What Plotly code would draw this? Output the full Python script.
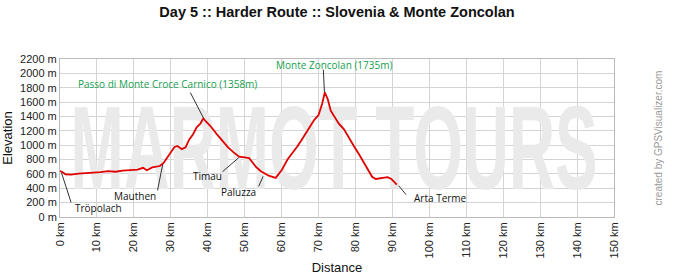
import plotly.graph_objects as go

# ---- data ----
distance_km = [0, 0.5, 1.5, 3, 5, 7, 9, 11, 13, 15, 17, 19, 21, 22.5, 23.5, 25, 26, 27, 28, 29, 30,
               31, 31.8, 33, 34, 35, 36, 37, 38, 38.8, 39.5, 41, 42.5, 44, 45.5, 47, 48.5, 50, 51.2,
               52, 53, 54.3, 55.5, 56.5, 58.4, 60, 61.6, 63, 64.3, 65.5, 67, 68.8, 70, 71, 71.7,
               72.5, 73.3, 74.2, 75.5, 76.9, 78.2, 79.6, 81, 82.3, 83.5, 84.5, 85.5, 86.5, 87.5,
               88.7, 89.7, 90.5, 91.2]
elevation_m = [640, 630, 595, 590, 605, 610, 620, 625, 640, 630, 645, 650, 660, 685, 650, 690, 700,
               710, 750, 820, 900, 975, 990, 945, 970, 1080, 1150, 1250, 1300, 1375, 1330, 1250,
               1150, 1060, 970, 900, 840, 830, 820, 770, 700, 640, 600, 575, 545, 650, 800, 890,
               985, 1080, 1210, 1350, 1420, 1580, 1735, 1640, 1480, 1400, 1300, 1220, 1100, 985,
               870, 750, 640, 560, 530, 535, 545, 555, 530, 490, 450]

x_ticks = list(range(0, 151, 10))
y_ticks = list(range(0, 2201, 200))

title_text = "Day 5 :: Harder Route :: Slovenia & Monte Zoncolan"
watermark_text = "MARMOT TOURS"
credit_text = "created by GPSVisualizer.com"

# waypoint labels: text, label x, label y, leader start (x,y), leader end (x,y), colour, anchor
labels = [
    ("Tröpolach", 3.4, 130, 3.0, 203, 0.4, 617, "#111111", "left"),
    ("Mauthen", 20.4, 296, 26.4, 370, 27.8, 729, "#111111", "center"),
    ("Passo di Monte Croce Carnico (1358m)", 29.2, 1853, 35.3, 1731, 38.8, 1383, "#15a050", "center"),
    ("Timau", 39.9, 566, 44.0, 631, 48.4, 826, "#111111", "center"),
    ("Paluzza", 48.3, 343, 53.8, 426, 55.0, 566, "#111111", "center"),
    ("Monte Zoncolan (1735m)", 74.3, 2112, 71.3, 2052, 71.6, 1735, "#15a050", "center"),
    ("Arta Terme", 95.2, 265, 93.7, 311, 91.7, 436, "#111111", "left"),
]

fig = go.Figure()

# watermark (behind the profile, above the grid)
fig.add_trace(go.Scatter(
    x=[74.2], y=[800], mode="text", text=[watermark_text],
    textposition="middle center",
    textfont=dict(family="Liberation Sans", size=118, color="#eaeaea", weight="bold"),
    hoverinfo="skip", showlegend=False, cliponaxis=False,
))

fig.add_trace(go.Scatter(
    x=distance_km, y=elevation_m, mode="lines",
    line=dict(color="#e00000", width=1.8), showlegend=False, hoverinfo="skip",
))

for (txt, lx, ly, sx, sy, ex, ey, col, anc) in labels:
    fig.add_shape(type="line", x0=sx, y0=sy, x1=ex, y1=ey, xref="x", yref="y",
                  line=dict(color="#333333", width=1), layer="above")
    fig.add_annotation(x=lx, y=ly, xref="x", yref="y", text=txt, showarrow=False,
                       xanchor=anc, yanchor="middle",
                       font=dict(family="Open Sans", size=10, color=col))

fig.add_annotation(x=(665 - 60) / (674 - 120), y=(278 - 61 - 138) / (278 - 120),
                   xref="paper", yref="paper", text=credit_text,
                   showarrow=False, textangle=-90,
                   font=dict(family="Liberation Sans", size=10, color="#999999"))

axis_font = dict(family="Liberation Sans", size=11, color="#222222")
fig.update_layout(
    width=674, height=278,
    margin=dict(l=60, r=60, t=59, b=61, autoexpand=False),
    paper_bgcolor="white", plot_bgcolor="white",
    title=dict(text="<b>" + title_text + "</b>", x=0.5, xanchor="center", y=1 - 12 / 278,
               yanchor="middle", font=dict(family="Liberation Sans", size=14.5, color="#111111")),
    xaxis=dict(range=[0, 150], tickvals=x_ticks, ticktext=[f"{v} km" for v in x_ticks],
               tickangle=-90, tickfont=axis_font, showgrid=True, gridcolor="#d4d4d4",
               gridwidth=1, showline=True, linecolor="#bbbbbb", mirror=True, zeroline=False,
               ticks="", automargin=False,
               title=dict(text="Distance", font=dict(family="Liberation Sans", size=13,
                                                     color="#111111"), standoff=5)),
    yaxis=dict(range=[0, 2200], tickvals=y_ticks, ticktext=[f"{v} m" for v in y_ticks],
               tickfont=axis_font, showgrid=True, gridcolor="#d4d4d4", gridwidth=1,
               showline=True, linecolor="#bbbbbb", mirror=True, zeroline=False, ticks="",
               automargin=False,
               title=dict(text="Elevation", font=dict(family="Liberation Sans", size=13,
                                                      color="#111111"), standoff=4)),
)

post = """
var gd = document.getElementById('{plot_id}');
function squeeze() {
  var t = gd.querySelector('.scatterlayer .trace .textpoint text');
  if (t) { t.setAttribute('textLength', '527'); t.setAttribute('lengthAdjust', 'spacingAndGlyphs'); }
}
squeeze();
if (gd.on) { gd.on('plotly_afterplot', squeeze); }
"""
fig.write_html("out.html", post_script=post)
